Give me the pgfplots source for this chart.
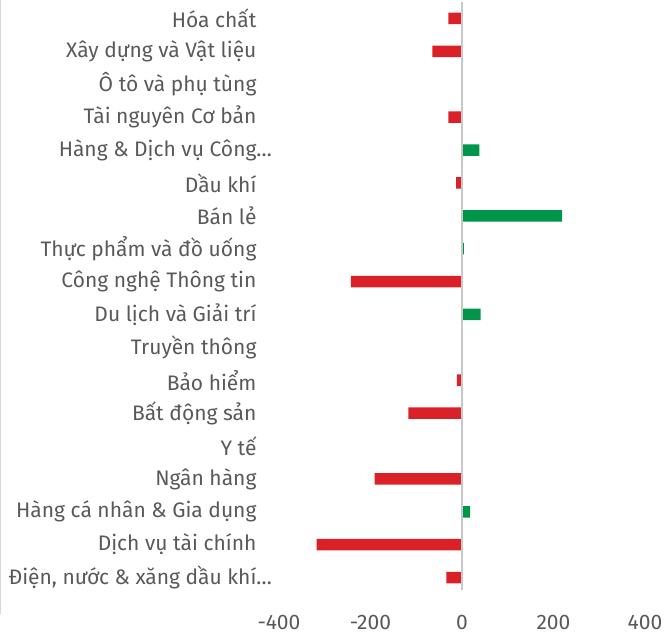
\documentclass[border=0pt]{standalone}
\usepackage{pgfplots}
\pgfplotsset{compat=1.18}
\usepackage{fontspec}
\setmainfont{Fira Sans}
\definecolor{negred}{HTML}{DA2128}
\definecolor{posgreen}{HTML}{00954A}
\definecolor{txtgray}{HTML}{595959}
\definecolor{zerogray}{HTML}{C8C8C8}
\begin{document}
\begin{tikzpicture}
\useasboundingbox (-280pt,-41pt) rectangle (385pt,594pt);
\draw[zerogray!70, line width=0.6pt] (-279.7pt,-20pt) -- (-279.7pt,594pt);
\begin{axis}[
  name=ax,
  at={(-1pt,0pt)}, anchor=south west,
  scale only axis, width=366pt, height=592pt,
  xmin=-400, xmax=400, ymin=0.5, ymax=18.5,
  y dir=reverse,
  axis line style={draw=none},
  major tick length=0pt,
  xbar, bar width=11.5pt,
  xtick={-400,-200,0,200,400},
  ytick={1,...,18},
  yticklabels={Hóa chất,Xây dựng và Vật liệu,Ô tô và phụ tùng,Tài nguyên Cơ bản,Hàng \& Dịch vụ Công\rlap{…},Dầu khí,Bán lẻ,Thực phẩm và đồ uống,Công nghệ Thông tin,Du lịch và Giải trí,Truyền thông,Bảo hiểm,Bất động sản,Y tế,Ngân hàng,Hàng cá nhân \& Gia dụng,Dịch vụ tài chính,{Điện, nước \& xăng dầu khí\rlap{…}}},
  font=\fontsize{21}{24}\selectfont,
  tick label style={text=txtgray},
  yticklabel style={xshift=-19pt},
  xticklabel style={yshift=-18pt},
  /pgf/number format/assume math mode=true,
]
\addplot[draw=none, fill=negred, bar shift=0pt] coordinates {
(-30,1) (-65,2) (-30,4) (-13,6) (-243,9) (-11,12) (-117,13) (-191,15) (-318,17) (-34,18)};
\addplot[draw=none, fill=posgreen, bar shift=0pt] coordinates {
(2,3) (38,5) (219,7) (4,8) (41,10) (0,11) (0,14) (18,16)};
\end{axis}
\draw[zerogray, line width=2pt] (ax.south) ++(0pt,4pt) -- (ax.north);
\end{tikzpicture}
\end{document}
